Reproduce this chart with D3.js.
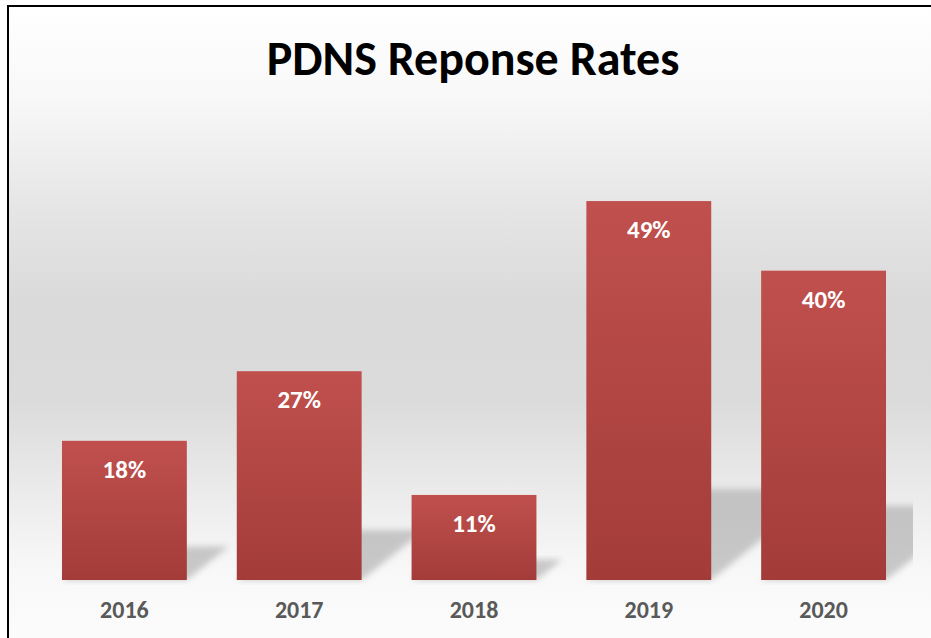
<!DOCTYPE html>
<html>
<head>
<meta charset="utf-8">
<script src="https://cdn.jsdelivr.net/npm/d3@7"></script>
<style>
    html, body { margin: 0; padding: 0; background: #ffffff; }
    svg { display: block; }
</style>
</head>
<body>
<svg id="chart"></svg>
<script>
const WIDTH = 931;
const HEIGHT = 638;

const years = ["2016", "2017", "2018", "2019", "2020"];
const rates = [18, 27, 11, 49, 40];   // percent
const chartTitle = "PDNS Reponse Rates";

const FONT = "Carlito, Calibri, Lato, sans-serif";

function drawChart(svg) {
    svg.attr("width", WIDTH).attr("height", HEIGHT);

    const defs = svg.append("defs");

    // background: white at top, grey band in the middle, white again at the floor
    const bg = defs.append("linearGradient")
        .attr("id", "bg").attr("x1", 0).attr("y1", 0).attr("x2", 0).attr("y2", 1);
    [["0%", "#ffffff"], ["14%", "#f8f8f8"], ["30%", "#e6e6e6"], ["45%", "#dadada"],
     ["60%", "#dbdbdb"], ["74%", "#ebebeb"], ["86%", "#f8f8f8"], ["100%", "#fdfdfd"]]
        .forEach(s => bg.append("stop").attr("offset", s[0]).attr("stop-color", s[1]));

    const barGrad = defs.append("linearGradient")
        .attr("id", "barGrad").attr("x1", 0).attr("y1", 0).attr("x2", 0).attr("y2", 1);
    barGrad.append("stop").attr("offset", "0%").attr("stop-color", "#c0504d");
    barGrad.append("stop").attr("offset", "100%").attr("stop-color", "#a33c39");

    defs.append("filter").attr("id", "blur")
        .attr("x", "-20%").attr("y", "-20%").attr("width", "140%").attr("height", "140%")
        .append("feGaussianBlur").attr("stdDeviation", 3);

    defs.append("clipPath").attr("id", "plotClip")
        .append("rect").attr("x", 20).attr("y", 90).attr("width", 893).attr("height", 495);

    svg.append("rect")
        .attr("x", 8).attr("y", 6)
        .attr("width", WIDTH + 20).attr("height", HEIGHT + 20)
        .style("fill", "url(#bg)")
        .style("stroke", "#000000")
        .style("stroke-width", "2px");

    const x = d3.scaleBand()
        .domain(years)
        .range([37, 911])
        .paddingInner(0.2857)
        .paddingOuter(0.1429);

    const y = d3.scaleLinear()
        .domain([0, 60])
        .range([580, 116]);

    const base = y(0);

    // perspective shadows thrown up and to the right
    svg.append("g")
        .attr("clip-path", "url(#plotClip)")
        .selectAll("path.shadow")
        .data(years)
        .enter().append("path")
        .attr("class", "shadow")
        .attr("d", (d, i) => {
            const h = base - y(rates[i]);
            const sh = h * 0.24;
            const dx = h * 0.3;
            const x0 = x(d), x1 = x(d) + x.bandwidth();
            return `M${x0},${base}L${x1},${base}L${x1 + dx},${base - sh}L${x0 + dx},${base - sh}Z`;
        })
        .style("fill", "#a8a8a8")
        .style("opacity", 0.6)
        .attr("filter", "url(#blur)");

    svg.selectAll("rect.bar")
        .data(years)
        .enter().append("rect")
        .attr("class", "bar")
        .attr("x", d => x(d))
        .attr("y", (d, i) => y(rates[i]))
        .attr("width", x.bandwidth())
        .attr("height", (d, i) => base - y(rates[i]))
        .style("fill", "url(#barGrad)");

    svg.selectAll("text.value")
        .data(years)
        .enter().append("text")
        .attr("class", "value")
        .attr("x", d => x(d) + x.bandwidth() / 2)
        .attr("y", (d, i) => y(rates[i]) + 37)
        .attr("text-anchor", "middle")
        .style("font-family", FONT)
        .style("font-weight", "bold")
        .style("font-size", "25px")
        .style("fill", "#ffffff")
        .text((d, i) => `${rates[i]}%`);

    const xAxis = svg.append("g")
        .attr("transform", `translate(0, ${base})`)
        .call(d3.axisBottom(x).tickSize(0).tickPadding(21));
    xAxis.select(".domain").remove();
    xAxis.selectAll("text")
        .attr("dy", "0.71em")
        .style("font-family", FONT)
        .style("font-weight", "bold")
        .style("font-size", "24px")
        .style("fill", "#595959");

    svg.append("text")
        .attr("x", 473)
        .attr("y", 75)
        .attr("text-anchor", "middle")
        .style("font-family", FONT)
        .style("font-weight", "bold")
        .style("font-size", "48px")
        .style("fill", "#000000")
        .text(chartTitle);
}

document.addEventListener("DOMContentLoaded", () => drawChart(d3.select("#chart")));
</script>
</body>
</html>
